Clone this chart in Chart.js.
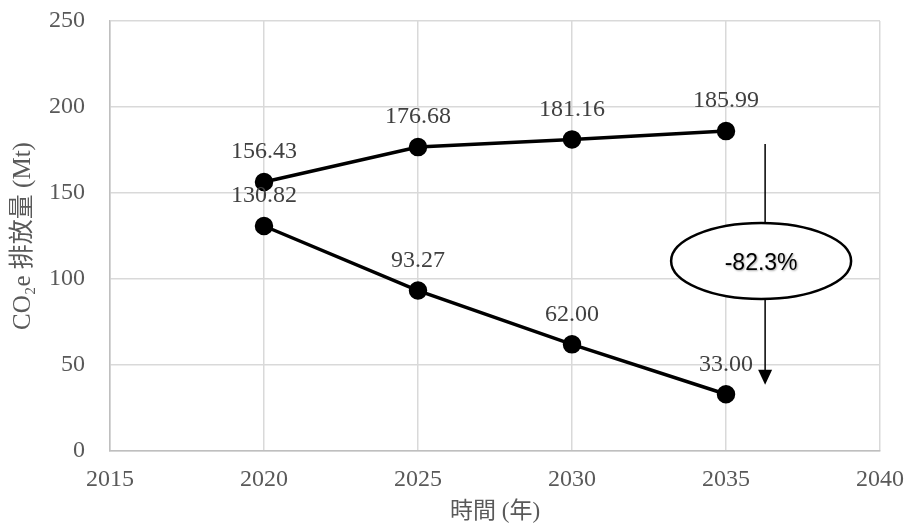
<!DOCTYPE html>
<html>
<head>
<meta charset="utf-8">
<script src="https://cdn.jsdelivr.net/npm/chart.js@4.4.1/dist/chart.umd.min.js"></script>
<style>
  html, body { margin: 0; padding: 0; background: #fff; }
  #wrap { width: 907px; height: 530px; }
</style>
</head>
<body>
<div id="wrap"><canvas id="co2Chart" width="907" height="530"></canvas></div>
<script>
// data
const years = [2020, 2025, 2030, 2035];
const upperSeries = [156.43, 176.68, 181.16, 185.99];
const lowerSeries = [130.82, 93.27, 62.00, 33.00];
const xTicks = [2015, 2020, 2025, 2030, 2035, 2040];
const yTicks = [0, 50, 100, 150, 200, 250];
const changeLabel = '-82.3%';

const serif = '"Liberation Serif", "Times New Roman", "Noto Sans CJK TC", serif';

// draws value labels above each point
const valueLabels = {
    id: 'valueLabels',
    afterDatasetsDraw(chart) {
        const ctx = chart.ctx;
        ctx.save();
        ctx.font = '24px ' + serif;
        ctx.fillStyle = '#404040';
        ctx.textAlign = 'center';
        ctx.textBaseline = 'middle';
        chart.data.datasets.forEach((ds, i) => {
            chart.getDatasetMeta(i).data.forEach((pt, j) => {
                ctx.fillText(ds.data[j].y.toFixed(2), pt.x, pt.y - 30);
            });
        });
        ctx.restore();
    }
};

// ellipse with the reduction figure and the arrow
const reductionNote = {
    id: 'reductionNote',
    afterDraw(chart) {
        const ctx = chart.ctx;
        const xs = chart.scales.x, ys = chart.scales.y;
        const lx = xs.getPixelForValue(2036.27);
        const cx = xs.getPixelForValue(2036.14);
        const cy = ys.getPixelForValue(110.5);
        const top = ys.getPixelForValue(178.5);
        const tip = ys.getPixelForValue(38.5);
        const rx = 90, ry = 38;
        ctx.save();
        ctx.strokeStyle = '#000';
        ctx.lineWidth = 1.5;
        ctx.beginPath();
        ctx.moveTo(lx, top);
        ctx.lineTo(lx, cy - ry);
        ctx.moveTo(lx, cy + ry);
        ctx.lineTo(lx, tip - 14);
        ctx.stroke();
        ctx.fillStyle = '#000';
        ctx.beginPath();
        ctx.moveTo(lx - 7, tip - 15);
        ctx.lineTo(lx + 7, tip - 15);
        ctx.lineTo(lx, tip);
        ctx.closePath();
        ctx.fill();

        ctx.beginPath();
        ctx.ellipse(cx, cy, rx, ry, 0, 0, Math.PI * 2);
        ctx.fillStyle = '#fff';
        ctx.fill();
        ctx.lineWidth = 2.5;
        ctx.stroke();

        ctx.font = '23px "Liberation Sans", Arial, sans-serif';
        ctx.textAlign = 'center';
        ctx.textBaseline = 'middle';
        ctx.shadowColor = 'rgba(0,0,0,0.35)';
        ctx.shadowBlur = 2;
        ctx.shadowOffsetX = 1;
        ctx.shadowOffsetY = 1;
        ctx.fillStyle = '#000';
        ctx.fillText(changeLabel, cx, cy + 3);
        ctx.restore();
    }
};

const toPoints = arr => arr.map((v, i) => ({ x: years[i], y: v }));

const lineStyle = {
    borderColor: '#000',
    backgroundColor: '#000',
    borderWidth: 3.5,
    pointRadius: 7.5,
    pointHoverRadius: 7.5,
    fill: false,
    tension: 0
};

new Chart(document.getElementById('co2Chart').getContext('2d'), {
    type: 'line',
    data: {
        datasets: [
            Object.assign({ label: 'upper', data: toPoints(upperSeries) }, lineStyle),
            Object.assign({ label: 'lower', data: toPoints(lowerSeries) }, lineStyle)
        ]
    },
    options: {
        responsive: false,
        animation: false,
        layout: { padding: 0 },
        plugins: {
            legend: { display: false },
            tooltip: { enabled: false }
        },
        scales: {
            x: {
                type: 'linear',
                min: 2015,
                max: 2040,
                afterBuildTicks: s => { s.ticks = xTicks.map(v => ({ value: v })); },
                afterFit: s => {
                    s.height = 79;
                    s.paddingLeft = 10;
                    s.paddingRight = 27;
                },
                ticks: {
                    color: '#595959',
                    font: { family: serif, size: 24 },
                    padding: 14,
                    maxRotation: 0,
                    callback: v => String(v)
                },
                grid: { color: '#d9d9d9', lineWidth: 1.5, drawTicks: false },
                border: { color: '#bfbfbf', width: 1.5 },
                title: {
                    display: true,
                    text: '時間 (年)',
                    color: '#595959',
                    font: { family: serif, size: 23 },
                    padding: { top: 6 }
                }
            },
            y: {
                min: 0,
                max: 250,
                afterBuildTicks: s => { s.ticks = yTicks.map(v => ({ value: v })); },
                afterFit: s => {
                    s.width = 110;
                    s.paddingTop = 21;
                    s.paddingBottom = 10;
                },
                ticks: {
                    color: '#595959',
                    font: { family: serif, size: 24 },
                    padding: 25
                },
                grid: { color: '#d9d9d9', lineWidth: 1.5, drawTicks: false },
                border: { color: '#bfbfbf', width: 1.5 },
                title: {
                    display: true,
                    text: 'CO₂e 排放量 (Mt)',
                    color: '#595959',
                    font: { family: serif, size: 25 },
                    padding: { top: 8, bottom: 0 }
                }
            }
        }
    },
    plugins: [valueLabels, reductionNote]
});
</script>
</body>
</html>
